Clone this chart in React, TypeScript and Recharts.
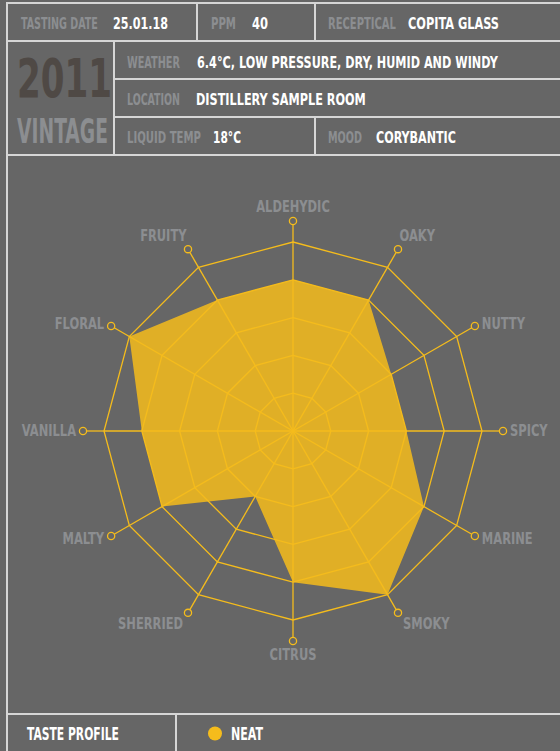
import React, { useLayoutEffect, useRef, useState } from 'react';
import { RadarChart, Radar, PolarGrid, PolarAngleAxis, PolarRadiusAxis, Legend } from 'recharts';

// tasting wheel, clockwise from the top
const FLAVOURS = ['ALDEHYDIC', 'OAKY', 'NUTTY', 'SPICY', 'MARINE', 'SMOKY', 'CITRUS', 'SHERRIED', 'MALTY', 'VANILLA', 'FLORAL', 'FRUITY'];
const NEAT = [4, 4, 3, 3, 4, 5, 4, 2, 4, 4, 5, 4];
const SCALE = [0, 5];
const SERIES_NAME = 'NEAT';

const data = FLAVOURS.map((flavour, i) => ({ flavour, neat: NEAT[i] }));

const BG = '#666666';
const GOLD = '#F5BC1C';
const RULE = '#d6d6d6';
const MUTED = '#8c8e91';
const FONT = "'Liberation Sans Narrow', 'DejaVu Sans Condensed', 'Arial Narrow', sans-serif";

// condensed text: squeezed horizontally to the width it has in the print
const T = ({ x, y, w, size = 16, fill = '#ffffff', children }: any) => {
    const ref = useRef<SVGTextElement>(null);
    const [k, setK] = useState(1);
    useLayoutEffect(() => {
        const len = ref.current ? ref.current.getComputedTextLength() : 0;
        if (len > 0) setK(w / len);
    }, [w, size, children]);
    return (
        <text
            ref={ref}
            x={0}
            y={0}
            transform={`translate(${x},${y}) scale(${k},1)`}
            fontSize={size}
            fontWeight={700}
            fill={fill}
            fontFamily={FONT}
        >
            {children}
        </text>
    );
};

const FlavourTick = (props: any) => {
    const { x, y, payload } = props;
    const a = (payload.coordinate * Math.PI) / 180;
    const ux = Math.cos(a);
    const uy = -Math.sin(a);
    let anchor = 'middle';
    let tx = x;
    let ty = y;
    if (Math.abs(ux) < 0.1) {
        ty = y + (uy > 0 ? 14 : -14);
    } else if (Math.abs(ux) < 0.6) {
        anchor = ux > 0 ? 'start' : 'end';
        tx = x + Math.sign(ux) * (uy > 0 ? 5 : 1.5);
        ty = y + (uy > 0 ? 11 : -14);
    } else {
        anchor = ux > 0 ? 'start' : 'end';
        tx = x + Math.sign(ux) * 7;
        ty = y + uy * 5;
    }
    return (
        <g>
            <circle cx={x} cy={y} r={3.6} fill={BG} stroke={GOLD} strokeWidth={1.3} />
            <text
                x={0}
                y={0}
                transform={`translate(${tx},${ty}) scale(0.85,1)`}
                textAnchor={anchor}
                dominantBaseline="central"
                fill={MUTED}
                fontFamily={FONT}
                fontWeight={700}
                fontSize={15}
            >
                {payload.value}
            </text>
        </g>
    );
};

const renderLegend = (props: any) => (
    <svg width={560} height={37} style={{ display: 'block' }}>
        <line x1={176} y1={0} x2={176} y2={37} stroke={RULE} strokeWidth={2} />
        <T x={27} y={26} w={92} size={17}>TASTE PROFILE</T>
        {(props.payload || []).map((entry: any) => (
            <g key={entry.value}>
                <circle cx={215} cy={19.5} r={7} fill={entry.payload?.fill || entry.color} />
                <T x={231} y={26} w={32} size={17}>{entry.value}</T>
            </g>
        ))}
    </svg>
);

const Header = () => (
    <svg width={560} height={751} style={{ position: 'absolute', left: 0, top: 0, pointerEvents: 'none' }}>
        {/* frame */}
        <line x1={7} y1={3} x2={560} y2={3} stroke={RULE} strokeWidth={2} />
        <line x1={7} y1={2} x2={7} y2={751} stroke={RULE} strokeWidth={2} />
        <line x1={7} y1={41} x2={560} y2={41} stroke={RULE} strokeWidth={2} />
        <line x1={114} y1={79} x2={560} y2={79} stroke={RULE} strokeWidth={2} />
        <line x1={114} y1={117} x2={560} y2={117} stroke={RULE} strokeWidth={2} />
        <line x1={7} y1={155} x2={560} y2={155} stroke={RULE} strokeWidth={2} />
        <line x1={197} y1={3} x2={197} y2={41} stroke={RULE} strokeWidth={2} />
        <line x1={315} y1={3} x2={315} y2={41} stroke={RULE} strokeWidth={2} />
        <line x1={114} y1={41} x2={114} y2={155} stroke={RULE} strokeWidth={2} />
        <line x1={315} y1={117} x2={315} y2={155} stroke={RULE} strokeWidth={2} />
        <line x1={7} y1={714} x2={560} y2={714} stroke={RULE} strokeWidth={2} />

        <T x={21} y={28.5} w={77} fill={MUTED}>TASTING DATE</T>
        <T x={113} y={28.5} w={55}>25.01.18</T>
        <T x={211} y={28.5} w={25} fill={MUTED}>PPM</T>
        <T x={252} y={28.5} w={16}>40</T>
        <T x={328} y={28.5} w={68} fill={MUTED}>RECEPTICAL</T>
        <T x={408} y={28.5} w={91}>COPITA GLASS</T>

        <T x={127} y={67.5} w={53} fill={MUTED}>WEATHER</T>
        <T x={197} y={67.5} w={301}>6.4°C, LOW PRESSURE, DRY, HUMID AND WINDY</T>
        <T x={127} y={105} w={53} fill={MUTED}>LOCATION</T>
        <T x={196} y={105} w={170}>DISTILLERY SAMPLE ROOM</T>
        <T x={127} y={143} w={74} fill={MUTED}>LIQUID TEMP</T>
        <T x={213} y={143} w={28}>18°C</T>
        <T x={328} y={143} w={34} fill={MUTED}>MOOD</T>
        <T x={376} y={143} w={80}>CORYBANTIC</T>

        <T x={17} y={97} w={95} size={54} fill="#4f4945">2011</T>
        <T x={17} y={143} w={91} size={34} fill={MUTED}>VINTAGE</T>
    </svg>
);

export default function App() {
    return (
        <div style={{ position: 'absolute', left: 0, top: 0, width: 560, height: 751, background: BG, overflow: 'hidden' }}>
            <RadarChart
                width={560}
                height={751}
                data={data}
                cx={293}
                cy={431}
                outerRadius={189}
                margin={{ top: 0, right: 0, bottom: 0, left: 0 }}
            >
                <PolarGrid gridType="polygon" stroke={GOLD} strokeWidth={1.3} strokeOpacity={1} />
                <PolarRadiusAxis domain={SCALE} tickCount={6} tick={false} axisLine={false} />
                <PolarAngleAxis
                    dataKey="flavour"
                    axisLine={false}
                    tickSize={21}
                    tickLine={{ stroke: GOLD, strokeWidth: 1.3 }}
                    tick={<FlavourTick />}
                />
                <Radar
                    name={SERIES_NAME}
                    dataKey="neat"
                    fill={GOLD}
                    fillOpacity={0.86}
                    stroke={GOLD}
                    strokeWidth={0}
                    dot={false}
                    isAnimationActive={false}
                />
                <Legend
                    content={renderLegend}
                    wrapperStyle={{ position: 'absolute', left: 0, top: 714, width: 560, height: 37 }}
                />
            </RadarChart>
            <Header />
        </div>
    );
}
